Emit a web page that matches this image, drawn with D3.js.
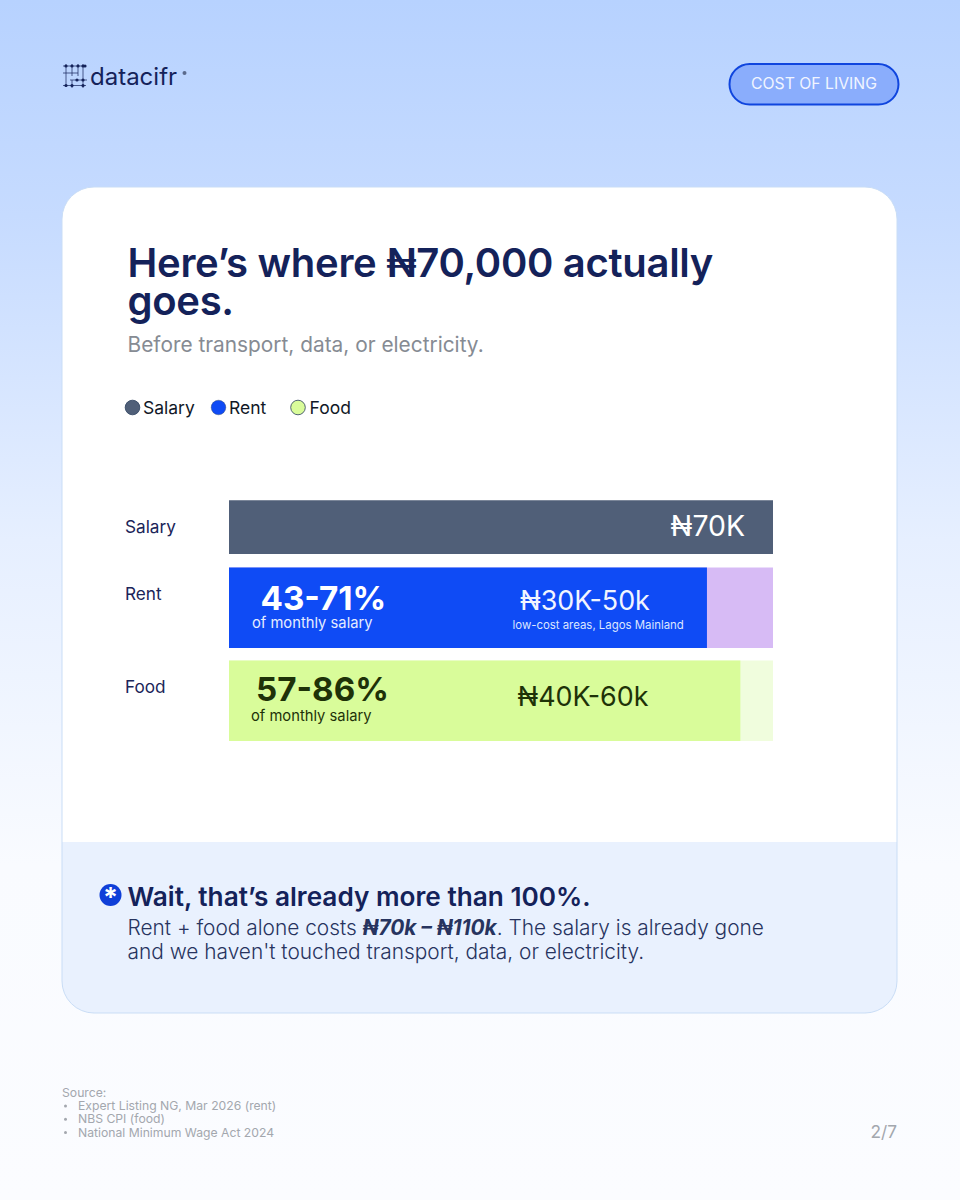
<!DOCTYPE html>
<html><head><meta charset="utf-8">
<script src="https://cdn.jsdelivr.net/npm/d3@7"></script>
<style>html,body{margin:0;padding:0;background:#fff}svg{display:block}text{font-family:Inter,"Noto Sans",sans-serif}</style>
</head><body><div id="c"></div>
<script>
// data
const categories = ["Salary","Rent","Food"];
const fullValues = [70,70,70];            // background track (₦k)
const filledValues = [70,61.5,65.8];      // solid bar length as drawn (₦k scale)
const barColors = ["#505F78","#0F4BF5","#D9FC9A"];
const trackColors = ["#505F78","#D7BBF5","#F0FDDD"];
const legendColors = ["#505F78","#0F4BF5","#D9FC9A"];
const amountLabels = ["₦70K","₦30K-50k","₦40K-60k"];
const percentLabels = ["","43-71%","57-86%"];
const subLabel = "of monthly salary";
const rentNote = "low-cost areas, Lagos Mainland";
const sources = ["Expert Listing NG, Mar 2026 (rent)","NBS CPI (food)","National Minimum Wage Act 2024"];

const W=960,H=1200;
const svg=d3.select("#c").append("svg").attr("width",W).attr("height",H);
const defs=svg.append("defs");
const g=defs.append("linearGradient").attr("id","bg").attr("x1",0).attr("x2",0).attr("y1",0).attr("y2",1);
[[0,"#B7D2FF"],[0.18,"#C6DBFF"],[0.45,"#E6EFFF"],[0.72,"#F9FBFF"],[1,"#FBFCFF"]].forEach(d=>g.append("stop").attr("offset",d[0]).attr("stop-color",d[1]));
svg.append("rect").attr("width",W).attr("height",H).attr("fill","url(#bg)");

const navy="#14225A";
function T(x,y,s,size,fill,weight,anchor){return svg.append("text").attr("x",x).attr("y",y).text(s).attr("font-size",size).attr("fill",fill).attr("font-weight",weight||400).attr("text-anchor",anchor||"start");}

// logo
const logo=svg.append("g").attr("stroke","#14225A").attr("fill","#14225A");
[[66,64,87],[72,64,76],[78,64,76],[83,64,88],[72,80,88]].forEach(l=>logo.append("line").attr("x1",l[0]).attr("x2",l[0]).attr("y1",l[1]).attr("y2",l[2]).attr("stroke-width",.7));
[[63,86,66],[63,78,73],[70,87,80],[63,86,85.5]].forEach(l=>logo.append("line").attr("x1",l[0]).attr("x2",l[1]).attr("y1",l[2]).attr("y2",l[2]).attr("stroke-width",.7));
[[66,66],[72,66],[78,66],[83,66],[85,66],[77,80],[83,80],[72,85.5],[83,85.5],[66,85.5]].forEach(p=>logo.append("circle").attr("cx",p[0]).attr("cy",p[1]).attr("r",1.6).attr("stroke","none"));
T(90,85,"datacifr",24,navy,400);
svg.append("circle").attr("cx",184.5).attr("cy",73).attr("r",2).attr("fill","#5A6A8C");

// pill
svg.append("rect").attr("x",729.5).attr("y",64).attr("width",169).attr("height",40.5).attr("rx",20.2).attr("fill","#8AADFC").attr("stroke","#0F45DE").attr("stroke-width",2);
T(814,88.5,"COST OF LIVING",15.75,"#F1F5FF",400,"middle");

// card
const cardClip=defs.append("clipPath").attr("id","card");
cardClip.append("rect").attr("x",62).attr("y",187).attr("width",835).attr("height",826).attr("rx",32);
svg.append("rect").attr("x",62).attr("y",187).attr("width",835).attr("height",826).attr("rx",32).attr("fill","#fff");
svg.append("rect").attr("x",62).attr("y",842).attr("width",835).attr("height",171).attr("fill","#E9F1FE").attr("clip-path","url(#card)");
svg.append("rect").attr("x",62).attr("y",187).attr("width",835).attr("height",826).attr("rx",32).attr("fill","none").attr("stroke","#C9DDF6").attr("stroke-width",1);

// title
T(127.5,277,"Here’s where ₦70,000 actually",40,navy,600).attr("letter-spacing",-.3);
T(127.5,315,"goes.",40,navy,600).attr("letter-spacing",-.3);
T(127.5,352,"Before transport, data, or electricity.",20.85,"#868B93",400);

// legend
const legendX=[132.5,218.5,298];
const legendLabelX=[143,229,309.5];
categories.forEach((c,i)=>{
 svg.append("circle").attr("cx",legendX[i]).attr("cy",407.5).attr("r",7.3).attr("fill",legendColors[i]).attr("stroke","#2A3E5C").attr("stroke-width",i==1?.4:.8);
 T(legendLabelX[i],413.5,c,17.5,"#111827",400);
});

// bars
const x=d3.scaleLinear().domain([0,70]).range([229,773]);
const tops=[500.5,567.5,660.5], hts=[53.5,80.5,80.5];
const y=d3.scaleOrdinal().domain(categories).range(tops);
const rows=svg.append("g").selectAll("g").data(categories).join("g");
rows.append("rect").attr("x",x(0)).attr("y",c=>y(c)).attr("height",(c,i)=>hts[i]).attr("width",(c,i)=>x(fullValues[i])-x(0)).attr("fill",(c,i)=>trackColors[i]);
rows.append("rect").attr("x",x(0)).attr("y",c=>y(c)).attr("height",(c,i)=>hts[i]).attr("width",(c,i)=>x(filledValues[i])-x(0)).attr("fill",(c,i)=>barColors[i]);
const labelY=[532.5,600,693];
categories.forEach((c,i)=>T(125,labelY[i],c,17.2,"#1B2559",400));

// bar labels
T(745,536,amountLabels[0],28.4,"#fff",400,"end");
T(260.5,610,percentLabels[1],33.2,"#fff",700);
T(252,628,subLabel,14.75,"#E6EDFF",400);
T(520,610,amountLabels[1],26.9,"#F2F5FF",400);
T(512.5,628.5,rentNote,11.4,"#DCE6FF",400);
T(256,701,percentLabels[2],33.2,"#1E3208",700);
T(251,721,subLabel,14.75,"#1E3208",400);
T(517.5,706,amountLabels[2],26.9,"#1E3208",400);

// callout
svg.append("circle").attr("cx",110.5).attr("cy",895).attr("r",11).attr("fill","#0F3FD8");
T(110.5,906.5,"*",27,"#fff",700,"middle");
T(127.5,906,"Wait, that’s already more than 100%.",26.2,navy,600);
const l1=T(127.5,935,"Rent + food alone costs ",20.87,"#27345F",300);
l1.append("tspan").text("₦70k – ₦110k").attr("font-weight",700).attr("font-style","italic");
l1.append("tspan").text(". The salary is already gone");
T(127.5,959,"and we haven't touched transport, data, or electricity.",20.87,"#27345F",300);

// source
const sc="#A3A7AE";
T(62,1097,"Source:",12.2,sc);
sources.forEach((s,i)=>{
 const yy=1110+13.3*i;
 svg.append("circle").attr("cx",65.5).attr("cy",yy-4).attr("r",1.5).attr("fill",sc);
 T(78,yy,s,12.2,sc);
});
T(897,1138,"2/7",17.3,"#A3A7AE",400,"end");
</script></body></html>
